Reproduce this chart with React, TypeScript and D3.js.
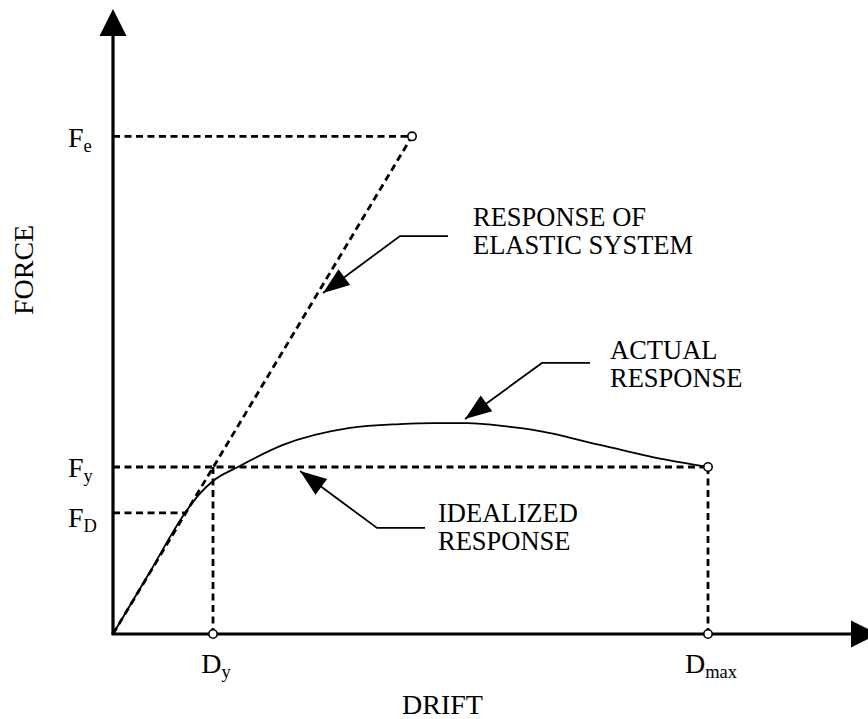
import React from "react";
import * as d3 from "d3";

// ---- data (drift in units of Dy-scale, force in units of Fy) ----
const curveDrift = [0, 0.36, 0.72, 0.86, 1.0, 1.25, 1.7, 2.37, 2.87, 3.2, 3.54, 3.97, 4.2, 4.87, 5.54, 5.95];
const curveForce = [0, 0.3625, 0.725, 0.835, 0.916, 1.0, 1.132, 1.234, 1.257, 1.263, 1.263, 1.24, 1.222, 1.132, 1.042, 1.0];

const Dy = 1.0;
const Dmax = 5.95;
const Fy = 1.0;
const FD = 0.725;
const FDdrift = 0.72;
const Fe = 2.98;
const FeDrift = 2.99;

const xAxisEnd = 7.65;
const yAxisEnd = 3.743;

const forceLabels = [
  { main: "F", sub: "e", value: Fe, dy: 11 },
  { main: "F", sub: "y", value: Fy, dy: 10 },
  { main: "F", sub: "D", value: FD, dy: 14 },
];
const driftLabels = [
  { main: "D", sub: "y", value: Dy },
  { main: "D", sub: "max", value: Dmax },
];

const annotations = [
  { lines: ["RESPONSE OF", "ELASTIC SYSTEM"], tip: [2.1, 2.042], corner: [2.87, 2.383], end: [3.35, 2.383], text: [3.6, 2.443] },
  { lines: ["ACTUAL", "RESPONSE"], tip: [3.52, 1.287], corner: [4.29, 1.623], end: [4.77, 1.623], text: [4.97, 1.647] },
  { lines: ["IDEALIZED", "RESPONSE"], tip: [1.87, 0.976], corner: [2.64, 0.635], end: [3.12, 0.635], text: [3.25, 0.671] },
];

const W = 868;
const H = 719;
const FONT = '"Liberation Serif", "Times New Roman", "DejaVu Serif", serif';

export default function App() {
  const x = d3.scaleLinear().domain([0, Dmax]).range([113, 708]);
  const y = d3.scaleLinear().domain([0, Fy]).range([634, 467]);

  const pts: [number, number][] = curveDrift.map((d, i) => [d, curveForce[i]]);
  const line = d3
    .line<[number, number]>()
    .x((d) => x(d[0]))
    .y((d) => y(d[1]))
    .curve(d3.curveMonotoneX);

  const dash = "7,4.5";
  const dashW = 2.8;

  const x0 = x(0);
  const y0 = y(0);
  const xEnd = x(xAxisEnd);
  const yEnd = y(yAxisEnd);
  const ah = 27;
  const aw = 13.5;

  const circles: [number, number][] = [
    [FeDrift, Fe],
    [Dmax, Fy],
    [Dy, 0],
    [Dmax, 0],
  ];

  const textStyle = { fontFamily: FONT };

  return (
    <svg
      width={W}
      height={H}
      style={{ position: "absolute", left: 0, top: 0, background: "#fff", fontFamily: FONT }}
    >
      <defs>
        <marker
          id="lead"
          markerUnits="userSpaceOnUse"
          markerWidth={30}
          markerHeight={30}
          viewBox="-24 -10 26 20"
          refX={0}
          refY={0}
          orient="auto"
        >
          <path d="M0,0 L-23,-8.5 L-23,8.5 Z" fill="#000" />
        </marker>
      </defs>
      <rect x={0} y={0} width={W} height={H} fill="#fff" />

      {/* elastic response dashed line */}
      <line x1={x(0)} y1={y(0)} x2={x(FeDrift)} y2={y(Fe)} stroke="#000" strokeWidth={dashW} strokeDasharray={dash} />

      {/* reference dashed lines */}
      <line x1={x0} y1={y(Fe)} x2={x(FeDrift)} y2={y(Fe)} stroke="#000" strokeWidth={dashW} strokeDasharray={dash} />
      <line x1={x0} y1={y(Fy)} x2={x(Dmax)} y2={y(Fy)} stroke="#000" strokeWidth={dashW} strokeDasharray={dash} />
      <line x1={x0} y1={y(FD)} x2={x(FDdrift)} y2={y(FD)} stroke="#000" strokeWidth={dashW} strokeDasharray={dash} />
      <line x1={x(Dy)} y1={y(Fy)} x2={x(Dy)} y2={y0} stroke="#000" strokeWidth={dashW} strokeDasharray={dash} />
      <line x1={x(Dmax)} y1={y(Fy)} x2={x(Dmax)} y2={y0} stroke="#000" strokeWidth={dashW} strokeDasharray={dash} />

      {/* actual response */}
      <path d={line(pts) || ""} fill="none" stroke="#000" strokeWidth={1.8} />

      {/* axes */}
      <line x1={x0} y1={y0} x2={x0} y2={yEnd + ah} stroke="#000" strokeWidth={3.2} />
      <path d={`M${x0},${yEnd} L${x0 - aw},${yEnd + ah} L${x0 + aw},${yEnd + ah} Z`} fill="#000" />
      <line x1={x0 - 1.6} y1={y0} x2={xEnd - ah} y2={y0} stroke="#000" strokeWidth={3.2} />
      <path d={`M${xEnd},${y0} L${xEnd - ah},${y0 - aw} L${xEnd - ah},${y0 + aw} Z`} fill="#000" />

      {/* circles */}
      {circles.map((c, i) => (
        <circle key={i} cx={x(c[0])} cy={y(c[1])} r={4.2} fill="#fff" stroke="#000" strokeWidth={1.6} />
      ))}

      {/* annotations */}
      {annotations.map((a, i) => (
        <g key={i}>
          <path
            d={`M${x(a.end[0])},${y(a.end[1])} L${x(a.corner[0])},${y(a.corner[1])} L${x(a.tip[0])},${y(a.tip[1])}`}
            fill="none"
            stroke="#000"
            strokeWidth={1.8}
            markerEnd="url(#lead)"
          />
          {a.lines.map((t, j) => (
            <text key={j} x={x(a.text[0])} y={y(a.text[1]) + j * 28} fontSize={26.5} fill="#000" style={textStyle}>
              {t}
            </text>
          ))}
        </g>
      ))}

      {/* force labels */}
      {forceLabels.map((l, i) => (
        <text key={i} x={x0 - 45} y={y(l.value) + l.dy} fontSize={28} fill="#000" style={textStyle}>
          <tspan>{l.main}</tspan>
          <tspan fontSize={18.5} dy={5}>
            {l.sub}
          </tspan>
        </text>
      ))}

      {/* drift labels */}
      {driftLabels.map((l, i) => (
        <text key={i} x={x(l.value) + 3} y={y0 + 39} fontSize={28} fill="#000" textAnchor="middle" style={textStyle}>
          <tspan>{l.main}</tspan>
          <tspan fontSize={18.5} dy={5}>
            {l.sub}
          </tspan>
        </text>
      ))}

      {/* axis titles */}
      <text x={x(2.89)} y={714} fontSize={28} fill="#000" style={textStyle}>
        DRIFT
      </text>
      <text
        transform={`translate(33,${y(2.18)}) rotate(-90)`}
        fontSize={28}
        fill="#000"
        textAnchor="middle"
        style={textStyle}
      >
        FORCE
      </text>
    </svg>
  );
}
